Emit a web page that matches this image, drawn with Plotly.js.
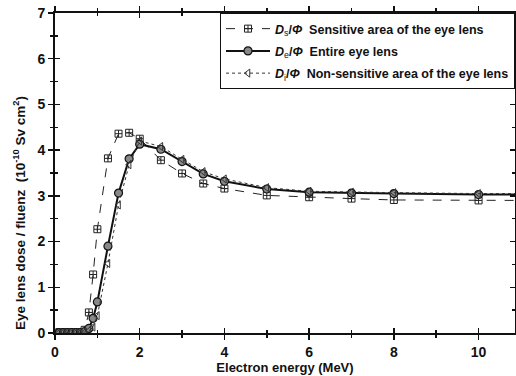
<!DOCTYPE html>
<html><head><meta charset="utf-8">
<script src="https://cdn.plot.ly/plotly-3.0.1.min.js"></script>
<style>body{margin:0;background:#fff}#c{width:516px;height:376px}</style>
</head><body><div id="c"></div>
<script>
var energy = [0.1,0.2,0.3,0.4,0.5,0.6,0.7,0.8,0.9,1.0,1.25,1.5,1.75,2.0,2.5,3.0,3.5,4.0,5,6,7,8,10,11];
var ds = [0.02,0.02,0.02,0.02,0.02,0.02,0.07,0.45,1.28,2.27,3.82,4.36,4.38,4.25,3.78,3.49,3.27,3.16,3.01,2.97,2.94,2.91,2.90,2.90];
var de = [0.01,0.01,0.01,0.01,0.01,0.01,0.03,0.10,0.32,0.68,1.90,3.06,3.81,4.13,4.02,3.75,3.48,3.32,3.15,3.08,3.06,3.05,3.03,3.03];
var di = [0.01,0.01,0.01,0.01,0.01,0.01,0.02,0.05,0.13,0.38,1.52,2.80,3.68,4.20,4.08,3.80,3.53,3.37,3.18,3.10,3.08,3.07,3.05,3.05];
var names = [
 '<b><i>D</i></b><sub>s</sub><b>/<i>Φ</i>  Sensitive area of the eye lens</b>',
 '<b><i>D</i></b><sub>e</sub><b>/<i>Φ</i>  Entire eye lens</b>',
 '<b><i>D</i></b><sub>i</sub><b>/<i>Φ</i>  Non-sensitive area of the eye lens</b>'
];

var traces = [
 {x: energy, y: ds, name: names[0], legendgroup: 'a', mode: 'lines+markers',
  line: {color: '#222', width: 1, dash: 'dash'},
  marker: {symbol: 'square-cross-open', size: 7, color: '#222', line: {width: 1}}},
 {x: energy, y: de, name: names[1], legendgroup: 'b', mode: 'lines+markers',
  line: {color: '#111', width: 2},
  marker: {symbol: 'circle', size: 8, color: '#888', line: {color: '#111', width: 1.2}}},
 {x: energy, y: di, name: names[2], legendgroup: 'c', mode: 'lines+markers',
  line: {color: '#333', width: 1, dash: 'dot'},
  marker: {symbol: 'triangle-left-open', size: 7, color: '#333', line: {width: 1}}},
 {x: [], y: [], xaxis: 'x2', yaxis: 'y2', showlegend: false, hoverinfo: 'skip'}
];

var tickFont = {family: 'Liberation Sans, Arial, sans-serif', size: 14, color: '#111', weight: 'bold'};
var layout = {
 width: 516, height: 376,
 margin: {l: 55, r: 1, t: 13, b: 43},
 paper_bgcolor: '#fff', plot_bgcolor: '#fff',
 font: {family: 'Liberation Sans, Arial, sans-serif', color: '#111'},
 showlegend: true,
 legend: {x: 1, y: 1, xanchor: 'right', yanchor: 'top', bgcolor: '#fff',
   bordercolor: '#111', borderwidth: 1, font: {size: 12.5, color: '#111'},
   tracegroupgap: 3, itemwidth: 44},
 xaxis: {range: [0, 10.86], showgrid: false, zeroline: false, showline: true,
   linecolor: '#111', linewidth: 2, mirror: 'ticks', ticks: 'outside', ticklen: 5,
   tickwidth: 1.5, tickcolor: '#111', dtick: 2, tick0: 0, tickfont: tickFont,
   minor: {dtick: 1, ticks: 'outside', ticklen: 3, tickwidth: 1.5, tickcolor: '#111'},
   title: {text: '<b>Electron energy (MeV)</b>', font: {size: 13}, standoff: 2}},
 yaxis: {range: [0, 7], showgrid: false, zeroline: false, showline: true,
   linecolor: '#111', linewidth: 2, mirror: 'ticks', ticks: 'outside', ticklen: 5,
   tickwidth: 1.5, tickcolor: '#111', dtick: 1, tick0: 0, tickfont: tickFont,
   minor: {dtick: 0.5, ticks: 'outside', ticklen: 3, tickwidth: 1.5, tickcolor: '#111'}},
 xaxis2: {overlaying: 'x', anchor: 'y2', range: [0, 10.86], showgrid: false, zeroline: false,
   showline: false, mirror: 'ticks', ticks: 'inside', ticklen: 5, tickwidth: 1.5, tickcolor: '#111',
   dtick: 2, tick0: 0, showticklabels: false,
   minor: {dtick: 1, ticks: 'inside', ticklen: 3, tickwidth: 1.5, tickcolor: '#111'}},
 yaxis2: {overlaying: 'y', anchor: 'x2', range: [0, 7], showgrid: false, zeroline: false,
   showline: false, mirror: 'ticks', ticks: 'inside', ticklen: 5, tickwidth: 1.5, tickcolor: '#111',
   dtick: 1, tick0: 0, showticklabels: false,
   minor: {dtick: 0.5, ticks: 'inside', ticklen: 3, tickwidth: 1.5, tickcolor: '#111'}},
 annotations: [{
   text: '<b>Eye lens dose / fluenz  (10<sup>-10</sup> Sv cm<sup>2</sup>)</b>',
   xref: 'paper', yref: 'paper', x: -0.078, y: 0.375, xanchor: 'center', yanchor: 'middle',
   textangle: -90, showarrow: false, font: {size: 13.5, color: '#111'}
 }]
};
Plotly.newPlot('c', traces, layout, {staticPlot: true});
</script></body></html>
